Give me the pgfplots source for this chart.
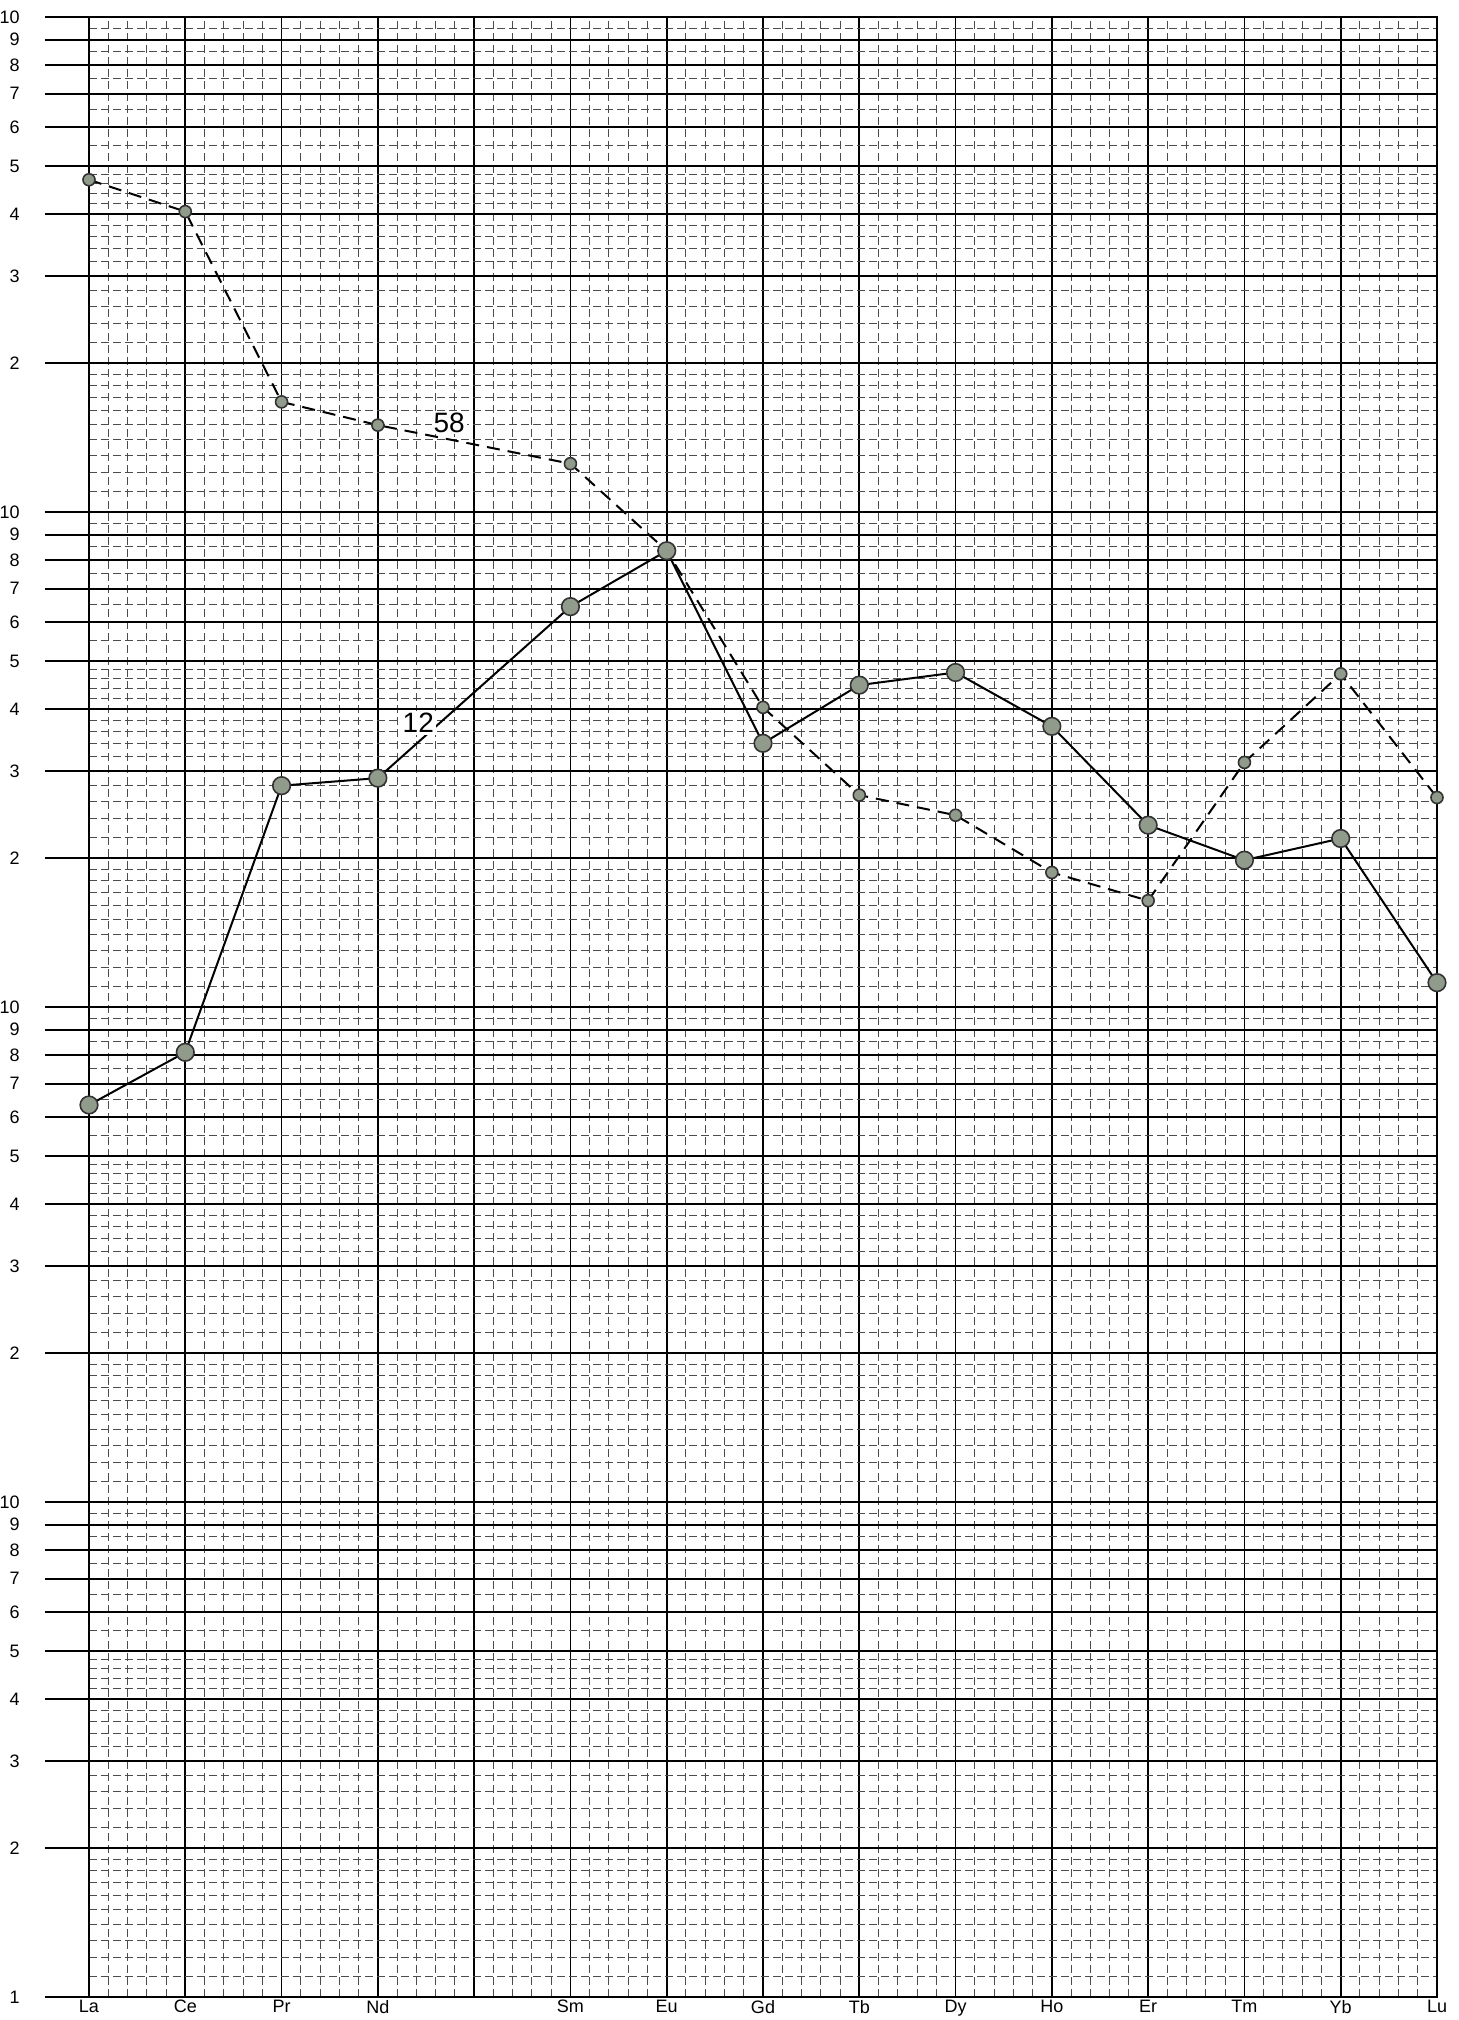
\documentclass[border=0pt]{standalone}
\usepackage{fontspec}
\setmainfont{Liberation Sans}
\usepackage{pgfplots}
\usepackage{pgfplotstable}
\pgfplotsset{compat=1.18}
\definecolor{mk}{RGB}{145,155,140}
\pgfplotstableread{
x y
0 63.4
1 81
2 280
3 290
5 644
6 835
7 341
8 447
9 474
10 369
11 233
12 198
13 219
14 112
}\seriestwelve
\pgfplotstableread{
x y
0 4690
1 4045
2 1669
3 1498
5 1252
6 835
7 403
8 268
9 244
10 187
11 164
12 312
13 471
14 265
}\seriesfiftyeight
\begin{document}
\begin{tikzpicture}
\useasboundingbox (-44.5pt,-11.5pt) rectangle (684.5pt,998.5pt);
\begin{axis}[
  at={(0,0)}, anchor=south west,
  scale only axis, width=674pt, height=990pt,
  xmin=0, xmax=14, ymin=1, ymax=10000, ymode=log,
  axis line style={black, line width=1pt},
  xtick={0,1,2,3,4,5,6,7,8,9,10,11,12,13,14},
  xticklabels={La,Ce,Pr,Nd,,Sm,Eu,Gd,Tb,Dy,Ho,Er,Tm,Yb,Lu},
  minor x tick num=4,
  xtick style={draw=none},
  xticklabel style={font=\fontsize{9}{9}\selectfont, inner sep=0pt, anchor=north, yshift=20.5pt},
  ytick={1,2,3,4,5,6,7,8,9,10,20,30,40,50,60,70,80,90,100,200,300,400,500,600,700,800,900,1000,2000,3000,4000,5000,6000,7000,8000,9000,10000},
  yticklabels={1,2,3,4,5,6,7,8,9,10,2,3,4,5,6,7,8,9,10,2,3,4,5,6,7,8,9,10,2,3,4,5,6,7,8,9,10},
  minor ytick={1.1,1.2,1.3,1.4,1.5,1.6,1.7,1.8,1.9,2.2,2.4,2.6,2.8,3.2,3.4,3.6,3.8,4.2,4.4,4.6,4.8,5.5,6.5,7.5,8.5,9.5,
    11,12,13,14,15,16,17,18,19,22,24,26,28,32,34,36,38,42,44,46,48,55,65,75,85,95,
    110,120,130,140,150,160,170,180,190,220,240,260,280,320,340,360,380,420,440,460,480,550,650,750,850,950,
    1100,1200,1300,1400,1500,1600,1700,1800,1900,2200,2400,2600,2800,3200,3400,3600,3800,4200,4400,4600,4800,5500,6500,7500,8500,9500},
  ytick pos=left,
  tick align=outside,
  major tick length=22pt,
  minor tick length=0pt,
  ytick style={black, line width=0.9pt},
  yticklabel style={font=\fontsize{9}{9}\selectfont, anchor=east, inner sep=0pt, xshift=-12.5pt},
  /pgf/number format/assume math mode=true,
  grid=both,
  major grid style={black, line width=0.9pt},
  minor grid style={black!70, line width=0.5pt, dash pattern=on 4pt off 2pt},
  clip=false,
]
\addplot[black, line width=1pt, dash pattern=on 6.5pt off 4pt,
  mark=*, mark size=3pt, mark options={solid, fill=mk, draw=black!80, line width=0.8pt}]
  table[x=x,y=y]{\seriesfiftyeight};
\addplot[black, line width=1pt,
  mark=*, mark size=4.4pt, mark options={solid, fill=mk, draw=black!80, line width=0.8pt}]
  table[x=x,y=y]{\seriestwelve};
\node[font=\fontsize{14}{14}\selectfont, fill=white, inner sep=1pt] at (axis cs:3.74,1517) {58};
\node[font=\fontsize{14}{14}\selectfont, fill=white, inner sep=1pt] at (axis cs:3.42,375) {12};
\end{axis}
\end{tikzpicture}
\end{document}
